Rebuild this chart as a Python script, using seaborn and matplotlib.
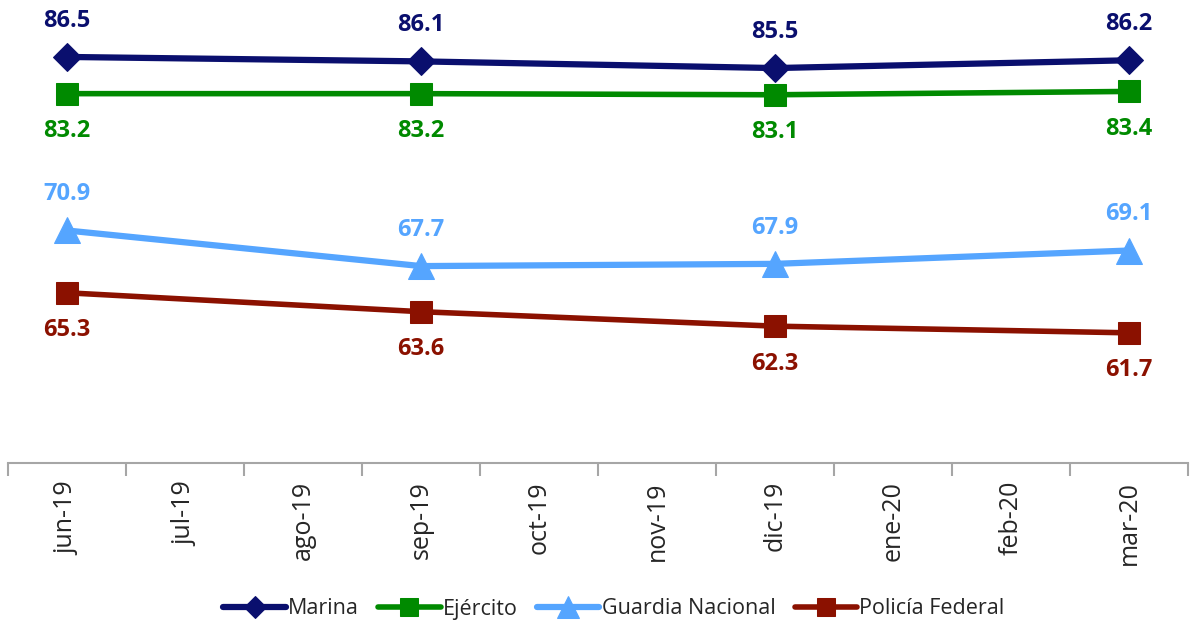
import matplotlib
matplotlib.use("Agg")
from matplotlib import pyplot as plt
from matplotlib.ticker import FixedLocator
import seaborn as sns
import pandas as pd

months = ["jun-19", "jul-19", "ago-19", "sep-19", "oct-19",
          "nov-19", "dic-19", "ene-20", "feb-20", "mar-20"]
survey_months = ["jun-19", "sep-19", "dic-19", "mar-20"]

marina = [86.5, 86.1, 85.5, 86.2]
ejercito = [83.2, 83.2, 83.1, 83.4]
guardia = [70.9, 67.7, 67.9, 69.1]
policia = [65.3, 63.6, 62.3, 61.7]

series_names = ["Marina", "Ejército", "Guardia Nacional", "Policía Federal"]

sns.set_style("white")
plt.rcParams["font.family"] = ["Open Sans", "DejaVu Sans"]

rows = []
for name, vals in zip(series_names, [marina, ejercito, guardia, policia]):
    for m, v in zip(survey_months, vals):
        rows.append({"serie": name, "mes": months.index(m), "valor": v})
df = pd.DataFrame(rows)

styles = {
    "Marina": dict(color="#0a0f6e", marker="D", ms=14, lw=4.5, above=True),
    "Ejército": dict(color="#008a00", marker="s", ms=16, lw=4, above=False),
    "Guardia Nacional": dict(color="#55a5ff", marker="^", ms=19, lw=4.5, above=True),
    "Policía Federal": dict(color="#8b1100", marker="s", ms=16, lw=4, above=False),
}

fig = plt.figure(figsize=(11.9, 6.23), dpi=100)
ax = fig.add_axes([8 / 1190, 160 / 623, 1180 / 1190, 445 / 623])

for name in series_names:
    st = styles[name]
    sub = df[df["serie"] == name]
    sns.lineplot(data=sub, x="mes", y="valor", ax=ax, color=st["color"],
                 marker=st["marker"], markersize=st["ms"], linewidth=st["lw"],
                 markeredgecolor=st["color"], label=name, clip_on=False)
    for x, y in zip(sub["mes"], sub["valor"]):
        off = 26 if st["above"] else -27
        ax.annotate(f"{y:.1f}", (x, y), xytext=(0, off), textcoords="offset points",
                    ha="center", va="center", fontsize=17, fontweight="bold",
                    color=st["color"], annotation_clip=False)

ax.set_xlim(-0.5, len(months) - 0.5)
ax.set_ylim(50, 90)
ax.set_xticks(range(len(months)))
ax.set_xticklabels(months, rotation=90, fontsize=18)
ax.xaxis.set_minor_locator(FixedLocator([i - 0.5 for i in range(len(months) + 1)]))
ax.tick_params(axis="x", which="major", bottom=True, length=0, pad=13)
ax.tick_params(axis="x", which="minor", bottom=True, length=9, width=1.5,
               color="#a6a6a6", direction="out")
ax.set_yticks([])
ax.set_xlabel("")
ax.set_ylabel("")
for s in ["top", "left", "right"]:
    ax.spines[s].set_visible(False)
ax.spines["bottom"].set_color("#a6a6a6")
ax.spines["bottom"].set_linewidth(1.5)

ax.legend(loc="center", bbox_to_anchor=(614 / 1190, 14 / 623), bbox_transform=fig.transFigure,
          ncol=4, frameon=False, fontsize=15.5, handlelength=2.9, handletextpad=0.1,
          columnspacing=0.9, markerscale=0.8)

fig.savefig("out.png", dpi=100)
